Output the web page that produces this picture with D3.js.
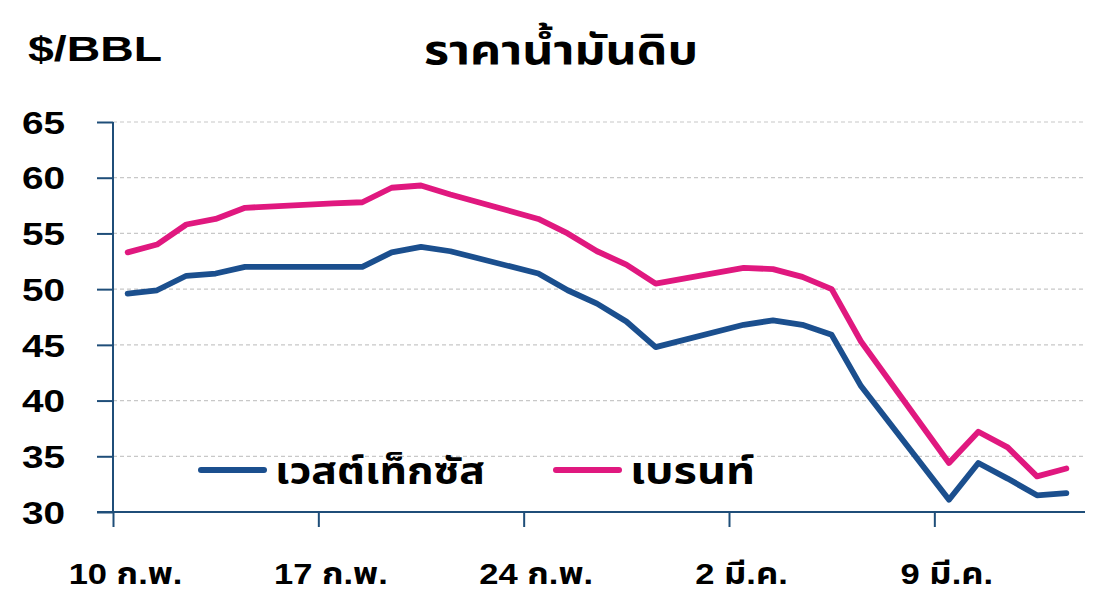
<!DOCTYPE html>
<html><head><meta charset="utf-8">
<script src="https://cdn.jsdelivr.net/npm/d3@7/dist/d3.min.js"></script>
<style>
body{margin:0;background:#fff;}
text{font-family:"Liberation Sans",Arial,"Noto Sans Thai",Tahoma,"Noto Sans",sans-serif;font-weight:bold;fill:#000;}
</style></head>
<body><svg id="c" width="1113" height="610"></svg>
<script>
const dates = ["2020-02-10","2020-02-11","2020-02-12","2020-02-13","2020-02-14",
  "2020-02-17","2020-02-18","2020-02-19","2020-02-20","2020-02-21",
  "2020-02-24","2020-02-25","2020-02-26","2020-02-27","2020-02-28",
  "2020-03-02","2020-03-03","2020-03-04","2020-03-05","2020-03-06",
  "2020-03-09","2020-03-10","2020-03-11","2020-03-12","2020-03-13"];
const wti =   [49.6,49.9,51.2,51.4,52.0, null,52.0,53.3,53.8,53.4, 51.4,49.9,48.7,47.1,44.8, 46.8,47.2,46.8,45.9,41.3, 31.1,34.4,33.0,31.5,31.7];
const brent = [53.3,54.0,55.8,56.3,57.3, 57.7,57.8,59.1,59.3,58.5, 56.3,55.0,53.4,52.2,50.5, 51.9,51.8,51.1,50.0,45.3, 34.4,37.2,35.8,33.2,33.9];
const yTicks = [30,35,40,45,50,55,60,65];
const xTickDates = ["2020-02-10","2020-02-17","2020-02-24","2020-03-02","2020-03-09"];
const xTickLabels = ["10 ก.พ.","17 ก.พ.","24 ก.พ.","2 มี.ค.","9 มี.ค."];
const seriesNames = ["เวสต์เท็กซัส","เบรนท์"];
const title = "ราคาน้ำมันดิบ";
const unit = "$/BBL";

const svg = d3.select("#c");
const parse = d3.utcParse("%Y-%m-%d");
const x0 = 113;
const x = d3.scaleUtc().domain([parse("2020-02-10"), parse("2020-03-14")]).range([x0, 1081]);
const y = d3.scaleLinear().domain([30,65]).range([512,122]);
const axisColor = "#1F4E79";
const colors = ["#1B4F8E","#E0187F"];

function stretch(sel, f){
  sel.each(function(){
    const w = this.getComputedTextLength();
    d3.select(this).attr("textLength", w*f).attr("lengthAdjust","spacingAndGlyphs");
  });
}

// gridlines
svg.append("g").selectAll("line").data(yTicks.filter(v=>v>30)).join("line")
  .attr("x1",x0).attr("x2",1085).attr("y1",d=>y(d)).attr("y2",d=>y(d))
  .attr("stroke","#C8C8C8").attr("stroke-width",1.2).attr("stroke-dasharray","4,3");

// y axis
const ya = svg.append("g").attr("transform",`translate(${x0},0)`)
  .call(d3.axisLeft(y).tickValues(yTicks).tickSize(16).tickPadding(32).tickFormat(d3.format("d")));
ya.select(".domain").attr("stroke",axisColor).attr("stroke-width",2).attr("d","M0,"+y(65)+"V"+y(30));
ya.selectAll(".tick line").attr("stroke",axisColor).attr("stroke-width",2);
ya.selectAll(".tick text").style("font-size","31px").attr("fill","#000").attr("dy","0.36em")
  .call(stretch, 1.25);

// x axis
const xa = svg.append("g").attr("transform","translate(0,512)")
  .call(d3.axisBottom(x).tickValues(xTickDates.map(parse)).tickSize(15).tickPadding(48)
    .tickFormat((d,i)=>xTickLabels[i]));
xa.select(".domain").attr("stroke",axisColor).attr("stroke-width",2).attr("d","M97,0H1085");
xa.selectAll(".tick line").attr("stroke",axisColor).attr("stroke-width",2);
xa.selectAll(".tick text").style("font-size","30px").attr("fill","#000").attr("dy","0.3em")
  .attr("dx",12).call(stretch, 1.15);

// lines
const mid = d => new Date(parse(d).getTime()+12*3600*1000);
[wti,brent].forEach((s,i)=>{
  const pts = dates.map((d,j)=>[mid(d),s[j]]).filter(p=>p[1]!=null);
  svg.append("path").datum(pts)
    .attr("fill","none").attr("stroke",colors[i]).attr("stroke-width",5.8)
    .attr("stroke-linejoin","round").attr("stroke-linecap","round")
    .attr("d",d3.line().x(p=>x(p[0])).y(p=>y(p[1])));
});

// legend
const leg = [{x1:201,x2:264,tx:275,tw:210},{x1:556,x2:619,tx:630,tw:125}];
leg.forEach((l,i)=>{
  svg.append("line").attr("x1",l.x1).attr("x2",l.x2).attr("y1",470).attr("y2",470)
    .attr("stroke",colors[i]).attr("stroke-width",6).attr("stroke-linecap","round");
  svg.append("text").attr("x",l.tx).attr("y",484).style("font-size","37px")
    .attr("textLength",l.tw).attr("lengthAdjust","spacingAndGlyphs").text(seriesNames[i]);
});

// titles
svg.append("text").attr("x",28).attr("y",61).style("font-size","35px")
  .attr("textLength",134).attr("lengthAdjust","spacingAndGlyphs").text(unit);
svg.append("text").attr("x",424).attr("y",64).style("font-size","40px")
  .attr("textLength",274).attr("lengthAdjust","spacingAndGlyphs").text(title);
</script></body></html>
